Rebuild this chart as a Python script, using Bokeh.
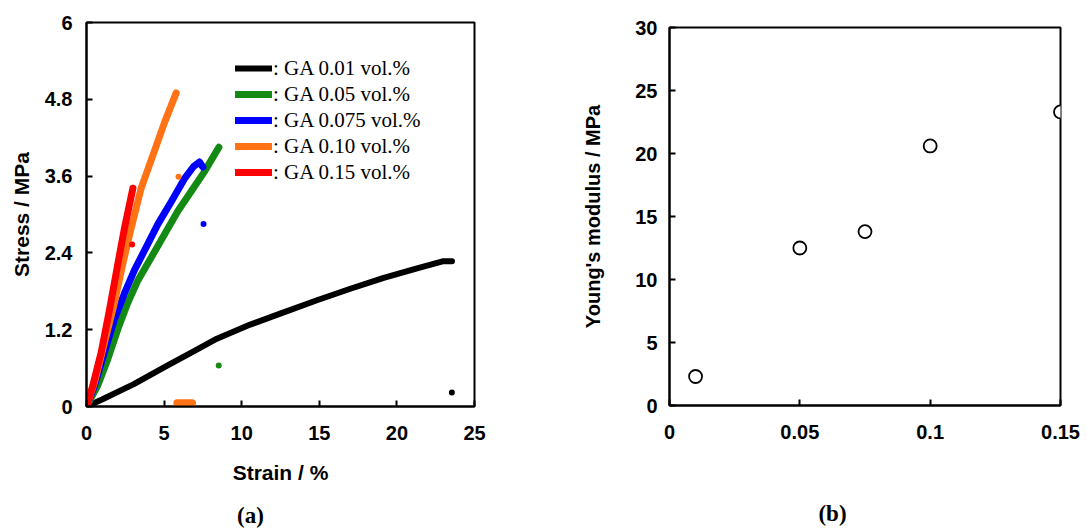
from bokeh.plotting import figure
from bokeh.layouts import row, column
from bokeh.models import Range1d, FixedTicker, NumeralTickFormatter, Legend, LegendItem, Label
from bokeh.embed import file_html
from bokeh.resources import INLINE

# ---- (a) stress-strain curves ----
strain_001 = [0, 1, 3.05, 5.2, 6.9, 8.4, 10.55, 12.7, 14.85, 17.0, 19.15, 21.3, 23.0, 23.55]
stress_001 = [0, 0.11, 0.35, 0.64, 0.86, 1.06, 1.28, 1.47, 1.66, 1.84, 2.01, 2.16, 2.27, 2.27]
strain_005 = [0, 0.73, 1.37, 2.02, 2.66, 3.31, 4.17, 5.03, 5.88, 6.74, 7.6, 8.53]
stress_005 = [0, 0.33, 0.74, 1.21, 1.62, 1.97, 2.33, 2.69, 3.05, 3.36, 3.67, 4.05]
strain_0075 = [0, 0.52, 1.16, 1.8, 2.45, 3.09, 3.74, 4.6, 5.46, 6.31, 6.9, 7.28, 7.5]
stress_0075 = [0, 0.33, 0.85, 1.36, 1.77, 2.13, 2.44, 2.85, 3.2, 3.56, 3.75, 3.82, 3.74]
strain_010 = [0, 0.52, 1.16, 1.8, 2.34, 2.88, 3.52, 4.27, 5.03, 5.78]
stress_010 = [0, 0.38, 1.0, 1.62, 2.23, 2.79, 3.41, 3.92, 4.44, 4.9]
strain_015 = [0, 0.41, 0.95, 1.48, 2.02, 2.45, 2.99]
stress_015 = [0, 0.33, 0.85, 1.51, 2.23, 2.79, 3.41]

# points recorded after fracture
after_x = [23.54, 8.52, 7.54, 5.93, 2.94]
after_y = [0.22, 0.64, 2.85, 3.59, 2.53]
after_c = ["#000000", "#138a13", "#0000ff", "#ff7316", "#ff0000"]
tail_010_x = [5.85, 6.2, 6.5, 6.8]
tail_010_y = [0.05, 0.05, 0.05, 0.05]

labels = [": GA 0.01 vol.%", ": GA 0.05 vol.%", ": GA 0.075 vol.%", ": GA 0.10 vol.%", ": GA 0.15 vol.%"]
colors = ["#000000", "#138a13", "#0000ff", "#ff7316", "#ff0000"]

x_ticks_a = [0, 5, 10, 15, 20, 25]
y_ticks_a = [0, 1.2, 2.4, 3.6, 4.8, 6]

# ---- (b) Young's modulus ----
ga_content = [0.01, 0.05, 0.075, 0.10, 0.15]
youngs_modulus = [2.3, 12.5, 13.8, 20.6, 23.3]
x_ticks_b = [0, 0.05, 0.1, 0.15]
y_ticks_b = [0, 5, 10, 15, 20, 25, 30]

captions = ["(a)", "(b)"]

SANS = "Liberation Sans"
SERIF = "Liberation Serif"


def style(p, xticks, yticks, xfmt, yfmt):
    p.xgrid.visible = False
    p.ygrid.visible = False
    p.outline_line_color = "black"
    p.outline_line_width = 2
    p.background_fill_color = "white"
    p.border_fill_color = "white"
    for ax in (p.xaxis[0], p.yaxis[0]):
        ax.axis_line_width = 2
        ax.axis_line_color = "black"
        ax.major_tick_line_width = 2
        ax.major_tick_in = 6
        ax.major_tick_out = 0
        ax.minor_tick_in = 0
        ax.minor_tick_out = 0
        ax.major_label_text_font = SANS
        ax.major_label_text_font_style = "bold"
        ax.major_label_text_font_size = "20px"
        ax.major_label_text_color = "black"
        ax.axis_label_text_font = SANS
        ax.axis_label_text_font_style = "bold"
        ax.axis_label_text_font_size = "21px"
        ax.axis_label_text_color = "black"
    p.xaxis[0].ticker = FixedTicker(ticks=xticks)
    p.yaxis[0].ticker = FixedTicker(ticks=yticks)
    p.xaxis[0].formatter = NumeralTickFormatter(format=xfmt)
    p.yaxis[0].formatter = NumeralTickFormatter(format=yfmt)


p1 = figure(width=560, height=500, output_backend="svg", toolbar_location=None,
            x_range=Range1d(0, 25), y_range=Range1d(0, 6),
            min_border_left=86, min_border_right=86, min_border_top=22, min_border_bottom=94)
style(p1, x_ticks_a, y_ticks_a, "0", "0.[0]")
p1.xaxis[0].axis_label = "Strain / %"
p1.yaxis[0].axis_label = "Stress / MPa"
p1.xaxis[0].major_label_standoff = 19
p1.yaxis[0].major_label_standoff = 14
p1.xaxis[0].axis_label_standoff = 18
p1.yaxis[0].axis_label_standoff = 9

series = [(strain_001, stress_001), (strain_005, stress_005), (strain_0075, stress_0075),
          (strain_010, stress_010), (strain_015, stress_015)]
widths = [6, 7, 7, 7, 7]
renderers = []
for (sx, sy), c, w in zip(series, colors, widths):
    r = p1.line(sx, sy, line_color=c, line_width=w, line_cap="round", line_join="round")
    renderers.append(r)

p1.scatter(after_x, after_y, size=6, marker="circle", fill_color=after_c, line_color=None)
p1.line(tail_010_x, tail_010_y, line_color=colors[3], line_width=8, line_cap="round")

legend = Legend(items=[LegendItem(label=l, renderers=[r]) for l, r in zip(labels, renderers)],
                location=(149, 221))
legend.label_text_font = SERIF
legend.label_text_font_size = "21px"
legend.label_text_color = "black"
legend.glyph_width = 37
legend.glyph_height = 26
legend.label_height = 26
legend.label_standoff = 1
legend.spacing = 0
legend.padding = 0
legend.margin = 0
legend.border_line_alpha = 0
legend.background_fill_alpha = 0
p1.add_layout(legend)

p2 = figure(width=526, height=500, output_backend="svg", toolbar_location=None,
            x_range=Range1d(0, 0.15), y_range=Range1d(0, 30),
            min_border_left=109, min_border_right=26, min_border_top=27, min_border_bottom=95)
style(p2, x_ticks_b, y_ticks_b, "0.[00]", "0")
p2.yaxis[0].axis_label = "Young's modulus / MPa"
p2.yaxis[0].axis_label_text_font_size = "20px"
p2.xaxis[0].major_label_standoff = 19
p2.yaxis[0].major_label_standoff = 12
p2.yaxis[0].axis_label_standoff = 28

p2.scatter(ga_content, youngs_modulus, size=13, marker="circle", fill_color="white",
           line_color="black", line_width=1.8)

# caption strip below both panels (pixel-like range 0..1086 x 0..31)
cap = figure(width=1086, height=31, output_backend="svg", toolbar_location=None,
             x_range=Range1d(0, 1086), y_range=Range1d(0, 31),
             min_border_left=0, min_border_right=0, min_border_top=0, min_border_bottom=0)
cap.axis.visible = False
cap.grid.visible = False
cap.outline_line_color = None
cap.background_fill_color = "white"
cap.border_fill_color = "white"
for txt, cx, cy in zip(captions, [250, 832], [16, 18]):
    cap.add_layout(Label(x=cx, y=cy, text=txt, text_font=SERIF, text_font_style="bold",
                         text_font_size="23px", text_color="black",
                         text_align="center", text_baseline="middle"))

layout = column(row(column(p1), column(p2)), column(cap))
open("out.html", "w").write(file_html(layout, INLINE))
